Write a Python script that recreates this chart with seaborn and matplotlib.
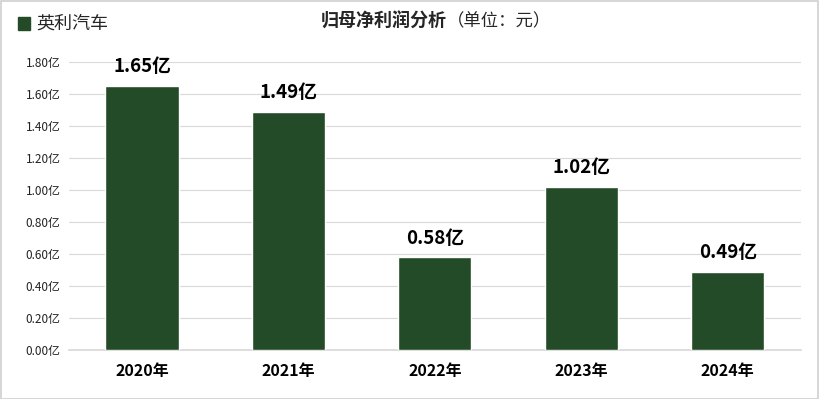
import numpy as np
import pandas as pd
import matplotlib.pyplot as plt
import seaborn as sns
from matplotlib.patches import Rectangle

sns.set_theme(style="white")
plt.rcParams['font.family'] = ['Noto Sans CJK SC', 'DejaVu Sans']

# data
years = ["2020年", "2021年", "2022年", "2023年", "2024年"]
profit = [1.65, 1.49, 0.58, 1.02, 0.49]
yticks = [0.0, 0.2, 0.4, 0.6, 0.8, 1.0, 1.2, 1.4, 1.6, 1.8]
company = "英利汽车"

df = pd.DataFrame({"year": years, "profit": profit})
bar_color = "#244b27"

fig = plt.figure(figsize=(8.19, 3.99), dpi=100)
ax = fig.add_axes([0.084, 0.1228, 0.894, 0.7218])

sns.barplot(data=df, x="year", y="profit", color=bar_color, width=0.5,
            saturation=1, ax=ax, zorder=3)

ax.set_ylim(0, 1.8)
ax.set_yticks(yticks)
ax.set_yticklabels([f"{v:.2f}亿" for v in yticks], fontsize=8.5, color="#222222")
ax.tick_params(axis="y", length=0, pad=6)
ax.tick_params(axis="x", length=0, pad=9)
for lbl in ax.get_xticklabels():
    lbl.set_fontsize(11.5)
    lbl.set_fontweight("bold")
    lbl.set_color("black")
ax.yaxis.grid(True, color="#d9d9d9", linewidth=0.8, zorder=0)
for s in ["top", "right", "left"]:
    ax.spines[s].set_visible(False)
ax.spines["bottom"].set_color("#d9d9d9")
ax.set_xlabel("")
ax.set_ylabel("")

for i, v in enumerate(profit):
    ax.text(i, v + 0.06, f"{v:.2f}亿", ha="center", va="bottom",
            fontsize=13.5, fontweight="bold", color="black")

# legend and title
fig.patches.append(Rectangle((18 / 819, 1 - 30 / 399), 12 / 819, 13 / 399,
                             transform=fig.transFigure, color=bar_color))
fig.text(36 / 819, 1 - 24 / 399, company, fontsize=13, va="center", ha="left")
fig.text(447 / 819, 1 - 21 / 399, "归母净利润分析", fontsize=13, fontweight="bold",
         va="center", ha="right")
fig.text(447 / 819, 1 - 21 / 399, "（单位：元）", fontsize=12.5, va="center", ha="left")

# outer border
fig.patches.append(Rectangle((0.001, 0.001), 0.998, 0.997, transform=fig.transFigure,
                             fill=False, edgecolor="#d0d0d0", linewidth=1.2))

fig.savefig("out.png", dpi=100)
